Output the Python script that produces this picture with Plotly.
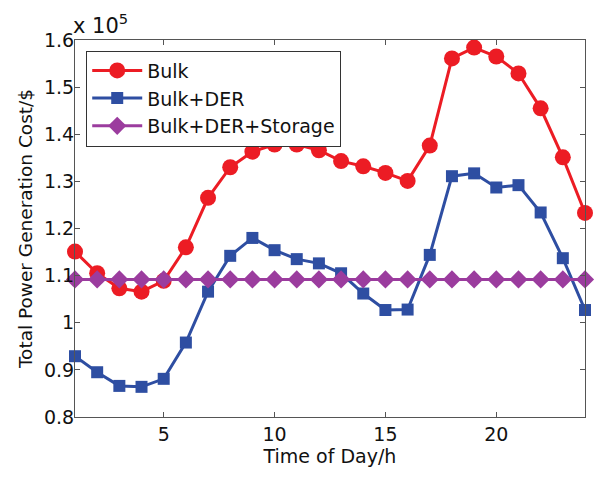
import plotly.graph_objects as go

hours = list(range(1, 25))
bulk = [1.151, 1.105, 1.073, 1.066, 1.089, 1.160, 1.265, 1.330, 1.363, 1.378, 1.378, 1.366,
        1.343, 1.332, 1.318, 1.301, 1.376, 1.561, 1.584, 1.565, 1.529, 1.455, 1.351, 1.233]
bulk_der = [0.929, 0.895, 0.866, 0.864, 0.881, 0.958, 1.066, 1.142, 1.180, 1.154, 1.135, 1.126,
            1.105, 1.062, 1.027, 1.028, 1.144, 1.311, 1.317, 1.287, 1.292, 1.234, 1.137, 1.027]
bulk_der_storage = [1.092] * 24
x_ticks = [5, 10, 15, 20]
y_ticks = [0.8, 0.9, 1.0, 1.1, 1.2, 1.3, 1.4, 1.5, 1.6]

FONT = "DejaVu Sans, Arial, sans-serif"
fig = go.Figure()
fig.add_trace(go.Scatter(x=hours, y=bulk, name="Bulk", mode="lines+markers", cliponaxis=False,
                         line=dict(color="#EC1C24", width=3),
                         marker=dict(symbol="circle", size=16, color="#EC1C24")))
fig.add_trace(go.Scatter(x=hours, y=bulk_der, name="Bulk+DER", mode="lines+markers", cliponaxis=False,
                         line=dict(color="#2E4EA2", width=3),
                         marker=dict(symbol="square", size=12, color="#2E4EA2")))
fig.add_trace(go.Scatter(x=hours, y=bulk_der_storage, name="Bulk+DER+Storage", mode="lines+markers",
                         cliponaxis=False,
                         line=dict(color="#9B3C9E", width=3),
                         marker=dict(symbol="diamond", size=14, color="#9B3C9E")))

axis_common = dict(showgrid=False, zeroline=False, showline=True, linecolor="#555",
                   linewidth=1, mirror="ticks", ticks="inside", ticklen=5,
                   tickcolor="#555", tickfont=dict(size=19, color="#111", family=FONT),
                   automargin=False)
fig.update_xaxes(range=[1, 24], tickvals=x_ticks, ticklabelstandoff=0,
                 title=dict(text="Time of Day/h", font=dict(size=19, color="#111", family=FONT), standoff=0),
                 **axis_common)
fig.update_yaxes(range=[0.8, 1.6], tickvals=y_ticks, ticklabelstandoff=-4,
                 title=dict(text="Total Power Generation Cost/$", font=dict(size=18.5, color="#111", family=FONT), standoff=6),
                 **axis_common)
fig.add_annotation(x=0, y=1, xref="paper", yref="paper", xanchor="left", yanchor="bottom",
                   text="x 10<sup>5</sup>", showarrow=False, xshift=-4, yshift=0,
                   font=dict(size=21, color="#111", family=FONT))
fig.update_layout(
    width=604, height=478,
    margin=dict(l=67, r=27, t=32, b=69),
    paper_bgcolor="white", plot_bgcolor="white",
    font=dict(family=FONT, color="#111"),
    legend=dict(x=0.022, y=0.972, xanchor="left", yanchor="top",
                bordercolor="#333", borderwidth=1, bgcolor="white",
                font=dict(size=19, color="#111", family=FONT),
                itemwidth=50, tracegroupgap=0),
    showlegend=True,
)
fig.write_html("out.html")
